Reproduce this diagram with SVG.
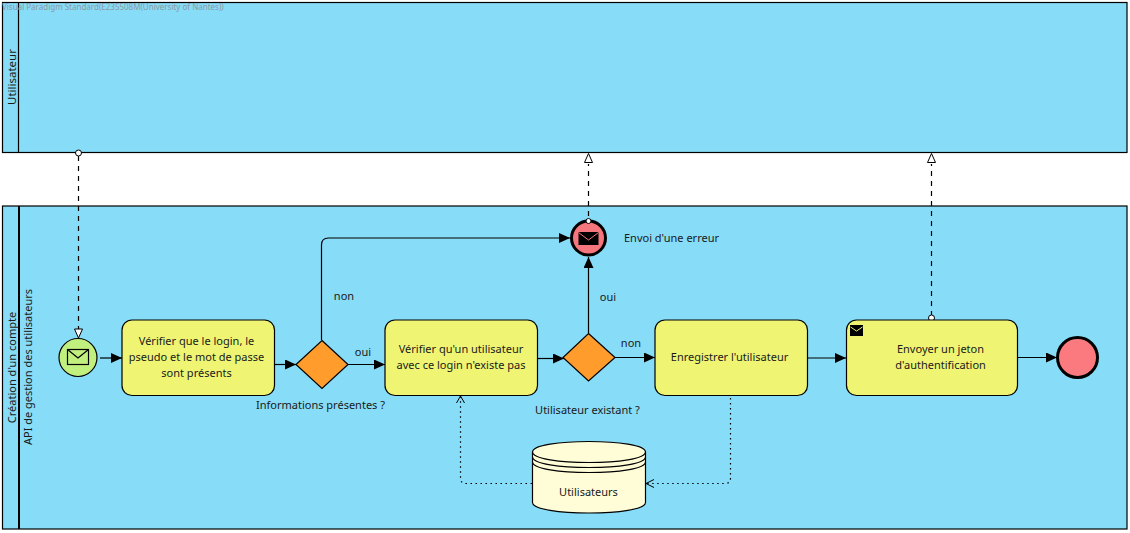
<svg xmlns="http://www.w3.org/2000/svg" width="1130" height="533" viewBox="0 0 1130 533">
<style>
text{font-family:"Noto Sans","DejaVu Sans",sans-serif;font-size:11px;fill:#1a1a1a;text-anchor:middle}
.pool{fill:#87dcf7;stroke:#000;stroke-width:1.2}
.task{fill:#eff573;stroke:#000;stroke-width:1.2}
.gw{fill:#ff9c2c;stroke:#000;stroke-width:1.2}
.flow{fill:none;stroke:#000;stroke-width:1.2;marker-end:url(#solid)}
.msg{fill:none;stroke:#000;stroke-width:1.2;stroke-dasharray:5 5}
.assoc{fill:none;stroke:#000;stroke-width:1.2;stroke-dasharray:1.5 3.5}
.dot{fill:#fff;stroke:#000;stroke-width:1}
.hollow{fill:#fff;stroke:#000;stroke-width:1}
</style>
<defs>
<marker id="solid" markerUnits="userSpaceOnUse" markerWidth="12" markerHeight="10" refX="11" refY="5" orient="auto"><path d="M0 0L11 5L0 10z" fill="#000"/></marker>
</defs>
<rect width="1130" height="533" fill="#fff"/>
<g id="pool-utilisateur">
<rect class="pool" x="2.5" y="2.5" width="1124.500" height="150"/>
<line x1="18.500" y1="2.500" x2="18.500" y2="152.500" stroke="#000" stroke-width="1.200"/>
<text transform="translate(15.500,77) rotate(-90)" style="font-size:11.500px">Utilisateur</text>
</g>
<g id="pool-api">
<rect class="pool" x="2.5" y="206" width="1124.500" height="323"/>
<line x1="19" y1="206" x2="19" y2="529" stroke="#000" stroke-width="2"/>
<text transform="translate(15.500,367.500) rotate(-90)">Création d'un compte</text>
<text transform="translate(32,367) rotate(-90)">API de gestion des utilisateurs</text>
</g>
<text x="2" y="10" style="text-anchor:start;font-size:8px;fill:#8a9aa4">Visual Paradigm Standard(E235508M(University of Nantes))</text>
<g id="connectors">
<path class="flow" d="M100 358H122"/>
<path class="flow" d="M274 364.500H296"/>
<path class="flow" d="M348 364.500H385"/>
<path class="flow" d="M321.500 340V245Q321.500 238 328.500 238H570"/>
<path class="flow" d="M537 358.500H564"/>
<path class="flow" d="M588.500 333V257"/>
<path class="flow" d="M615 357.500H655"/>
<path class="flow" d="M807 358H846"/>
<path class="flow" d="M1017.500 357.500H1057"/>
<path class="msg" d="M78.500 156V330"/>
<path class="hollow" d="M78.500 338L74.500 329H82.500z"/>
<circle class="dot" cx="78.500" cy="153" r="3"/>
<path class="msg" d="M588.500 216V164"/>
<path class="hollow" d="M588.500 153.500L584.500 162.500H592.500z"/>
<path class="msg" d="M931.500 316V164"/>
<path class="hollow" d="M931.500 153.500L927.500 162.500H935.500z"/>
<circle class="dot" cx="931.500" cy="318" r="3"/>
<path class="assoc" d="M532 483.500H466Q460.500 483.500 460.500 478V396"/>
<path d="M456.500 403L460.500 396L464.500 403" fill="none" stroke="#000" stroke-width="1"/>
<path class="assoc" d="M730.500 398V478Q730.500 483.500 725 483.500H646"/>
<path d="M654 479.500L646 483.500L654 487.500" fill="none" stroke="#000" stroke-width="1"/>
</g>
<g id="start-event">
<circle cx="78" cy="357.500" r="19" fill="#c1f07e" stroke="#000" stroke-width="1.200"/>
<rect x="67.500" y="349.500" width="21" height="15" fill="none" stroke="#000" stroke-width="1.200"/>
<path d="M67.500 349.500L78 358L88.500 349.500" fill="none" stroke="#000" stroke-width="1.200"/>
</g>
<g id="task-verifier-login">
<rect class="task" x="122" y="320" width="152.500" height="75.500" rx="10"/>
<text x="196.500" y="345">Vérifier que le login, le</text>
<text x="196.500" y="361">pseudo et le mot de passe</text>
<text x="196.500" y="377">sont présents</text>
</g>
<g id="gateway-informations">
<path class="gw" d="M322 340.500L348 364.500L322 388.500L296 364.500z"/>
<text x="320.500" y="409">Informations présentes ?</text>
</g>
<g id="task-verifier-utilisateur">
<rect class="task" x="385" y="320" width="152.500" height="75.500" rx="10"/>
<text x="461" y="353">Vérifier qu'un utilisateur</text>
<text x="461" y="369">avec ce login n'existe pas</text>
</g>
<g id="gateway-utilisateur">
<path class="gw" d="M588.500 333.500L615 357.500L588.500 381L563 357.500z"/>
<text x="587.500" y="414">Utilisateur existant ?</text>
</g>
<g id="task-enregistrer">
<rect class="task" x="655" y="320" width="152.500" height="75.500" rx="10"/>
<text x="729.500" y="361">Enregistrer l'utilisateur</text>
</g>
<g id="task-envoyer">
<rect class="task" x="846.500" y="320" width="171" height="75.500" rx="10"/>
<rect x="850" y="325" width="13" height="11" fill="#000"/>
<path d="M850.500 327L856.500 331L862.500 327" fill="none" stroke="#eff573" stroke-width="1"/>
<text x="940.500" y="353">Envoyer un jeton</text>
<text x="940.500" y="369">d'authentification</text>
</g>
<g id="error-event">
<circle cx="588.500" cy="238" r="17" fill="#f5767c" stroke="#000" stroke-width="3"/>
<rect x="578.500" y="232" width="20" height="13" fill="#000"/>
<path d="M578.500 232.500L588.500 240L598.500 232.500" fill="none" stroke="#f5767c" stroke-width="1"/>
<circle class="dot" cx="588.500" cy="221" r="2.500"/>
<text x="671.500" y="241.500">Envoi d'une erreur</text>
</g>
<g id="end-event">
<circle cx="1077.500" cy="357.500" r="20" fill="#fb7a80" stroke="#000" stroke-width="3"/>
</g>
<g id="datastore-utilisateurs">
<path d="M532.500 452C532.500 438 645.500 438 645.500 452V502.500C645.500 516.500 532.500 516.500 532.500 502.500z" fill="#fffdd8" stroke="#000" stroke-width="1.200"/>
<path d="M532.500 452C532.500 466 645.500 466 645.500 452M532.500 457C532.500 471 645.500 471 645.500 457M532.500 462C532.500 476 645.500 476 645.500 462" fill="none" stroke="#000" stroke-width="1.200"/>
<text x="588.500" y="496">Utilisateurs</text>
</g>
<g id="labels">
<text x="344" y="300">non</text>
<text x="363" y="355.500">oui</text>
<text x="608" y="301">oui</text>
<text x="631" y="347">non</text>
</g>
</svg>
